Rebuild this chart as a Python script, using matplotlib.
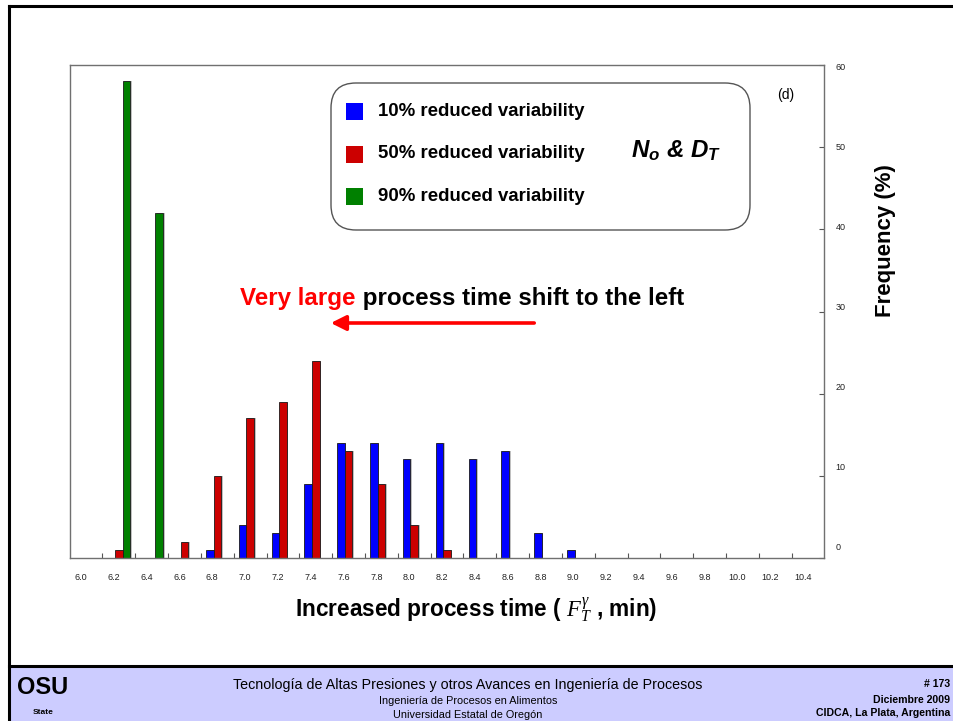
import numpy as np
import matplotlib
matplotlib.use("Agg")
import matplotlib.pyplot as plt
from matplotlib.patches import Rectangle, FancyBboxPatch, FancyArrowPatch
from matplotlib.transforms import IdentityTransform, ScaledTranslation
from matplotlib.lines import Line2D

plt.rcParams['font.family'] = ['Liberation Sans', 'DejaVu Sans']
plt.rcParams['mathtext.fontset'] = 'custom'
plt.rcParams['mathtext.rm'] = 'Liberation Sans:bold'
plt.rcParams['mathtext.it'] = 'Liberation Serif:italic'
plt.rcParams['mathtext.bf'] = 'Liberation Sans:italic:bold'

# ---------------- data ----------------
categories = ['6.0', '6.2', '6.4', '6.6', '6.8', '7.0', '7.2', '7.4', '7.6', '7.8',
              '8.0', '8.2', '8.4', '8.6', '8.8', '9.0', '9.2', '9.4', '9.6', '9.8',
              '10.0', '10.2', '10.4']
reduced_10 = [0, 0, 0, 0, 1, 4, 3, 9, 14, 14, 12, 14, 12, 13, 3, 1, 0, 0, 0, 0, 0, 0, 0]
reduced_50 = [0, 1, 0, 2, 10, 17, 19, 24, 13, 9, 4, 1, 0, 0, 0, 0, 0, 0, 0, 0, 0, 0, 0]
reduced_90 = [0, 58, 42, 0, 0, 0, 0, 0, 0, 0, 0, 0, 0, 0, 0, 0, 0, 0, 0, 0, 0, 0, 0]
series_names = ['10% reduced variability', '50% reduced variability', '90% reduced variability']
series_colors = ['#0000ff', '#cc0000', '#008000']
yticks = [0, 10, 20, 30, 40, 50, 60]

W, H = 954, 721
fig = plt.figure(figsize=(W / 100, H / 100), dpi=100)
ID = IdentityTransform()

def P(x, y):
    return (x, H - y)

# ---------------- slide frame & footer ----------------
fig.add_artist(Rectangle(P(9, 721), W, 721 - 665, transform=ID, facecolor='#ccccff',
                         edgecolor='none', zorder=0))
fig.add_artist(Line2D([8.5, 8.5], [0, H - 5.5], transform=ID, color='black', lw=2.2))
fig.add_artist(Line2D([8.5, W + 5], [H - 5.5, H - 5.5], transform=ID, color='black', lw=2.2))
fig.add_artist(Line2D([8.5, W + 5], [H - 665.5, H - 665.5], transform=ID, color='black', lw=2.2))

# ---------------- axes ----------------
left, right, top, bottom = 69.6, 824.5, 65, 558
ax = fig.add_axes([left / W, (H - bottom) / H, (right - left) / W, (bottom - top) / H])
x = np.arange(len(categories))
bw = 0.23
for k, (vals, col) in enumerate(zip([reduced_10, reduced_50, reduced_90], series_colors)):
    pos = x + (k - 1) * bw
    vals = np.array(vals, dtype=float)
    m = vals > 0
    ax.bar(pos[m] + 0.05, vals[m], width=bw, color='#c0c0c0', edgecolor='none', zorder=1)
    ax.bar(pos[m], vals[m], width=bw, color=col, edgecolor='#1a1a1a', linewidth=0.6, zorder=2)

ax.set_xlim(-0.5, len(categories) - 0.5)
ax.set_ylim(0, 60)
for s in ax.spines.values():
    s.set_color('#707070')
    s.set_linewidth(1.0)

ax.set_xticks(x)
ax.set_xticklabels(categories, fontsize=6.5)
ax.tick_params(axis='x', which='major', length=0, pad=10.5, colors='#222222')
ax.set_xticks(x[:-1] + 0.5, minor=True)
ax.tick_params(axis='x', which='minor', direction='in', length=3.5, width=0.8, color='#555555')
off = ScaledTranslation(-5 / 100, 0, fig.dpi_scale_trans)
for lab in ax.get_xticklabels():
    lab.set_transform(lab.get_transform() + off)

ax.yaxis.tick_right()
ax.set_yticks(yticks)
ax.set_yticklabels([str(v) for v in yticks], fontsize=6.5)
ax.tick_params(axis='y', direction='in', length=3.5, width=0.8, color='#555555', pad=8,
               labelcolor='#222222')
for v, lab in zip(yticks, ax.get_yticklabels()):
    shift_px = 12 - 0.217 * v
    lab.set_transform(lab.get_transform() + ScaledTranslation(0, shift_px / 100, fig.dpi_scale_trans))

# axis titles
fig.text(*P(476, 610), r'Increased process time ( $F_T^{\gamma}$ , min)', transform=ID,
         ha='center', va='center', fontsize=16.3, fontweight='bold')
fig.text(*P(886, 241), 'Frequency (%)', transform=ID, rotation=90,
         ha='center', va='center', fontsize=16, fontweight='bold')

# legend box
fig.add_artist(FancyBboxPatch(P(331 + 25, 230 - 25), 750 - 331 - 50, 230 - 83 - 50,
                              boxstyle='round,pad=25', transform=ID, facecolor='white',
                              edgecolor='#555555', linewidth=1.0, zorder=3))
for name, col, yy in zip(series_names, series_colors, [111.5, 154, 196.5]):
    fig.add_artist(Rectangle(P(346, yy + 8.5), 17, 17, transform=ID, facecolor=col,
                             edgecolor='none', zorder=4))
    fig.text(*P(378, yy), name, transform=ID, ha='left', va='center', fontsize=13.4,
             fontweight='bold', zorder=4)
fig.text(*P(676, 151), r'$\mathbf{N}_\mathbf{o}$ & $\mathbf{D}_\mathbf{T}$',
         transform=ID, ha='center', va='center', fontsize=17.4, fontweight='bold',
         fontstyle='italic', zorder=4)
fig.text(*P(786, 95), '(d)', transform=ID, ha='center', va='center', fontsize=10)

# annotation
t1 = fig.text(*P(240, 298), 'Very large', transform=ID, ha='left', va='center',
              fontsize=17.4, fontweight='bold', color='#ff0000')
fig.canvas.draw()
bb = t1.get_window_extent()
fig.text(bb.x1, H - 298, ' process time shift to the left', transform=ID, ha='left',
         va='center', fontsize=17.4, fontweight='bold', color='black')
fig.add_artist(FancyArrowPatch(P(537, 323), P(328, 323), transform=ID,
                               arrowstyle='-|>,head_length=9,head_width=4.5',
                               mutation_scale=1, color='#ff0000', lw=2.6))

# footer texts
fig.text(*P(468, 685), 'Tecnología de Altas Presiones y otros Avances en Ingeniería de Procesos',
         transform=ID, ha='center', va='center', fontsize=10.3)
fig.text(*P(468, 701), 'Ingeniería de Procesos en Alimentos', transform=ID,
         ha='center', va='center', fontsize=7.8)
fig.text(*P(468, 715), 'Universidad Estatal de Oregón', transform=ID,
         ha='center', va='center', fontsize=7.8)
for txt, yy in zip(['# 173', 'Diciembre 2009', 'CIDCA, La Plata, Argentina'], [684, 700, 713]):
    fig.text(*P(950, yy), txt, transform=ID, ha='right', va='center', fontsize=7.6,
             fontweight='bold')
fig.text(*P(43, 688), 'OSU', transform=ID, ha='center', va='center', fontsize=17,
         fontweight='bold', color='black')
fig.text(*P(43, 712), 'State', transform=ID, ha='center', va='center', fontsize=6,
         fontweight='bold', color='black')

fig.savefig('out.png', dpi=100)
